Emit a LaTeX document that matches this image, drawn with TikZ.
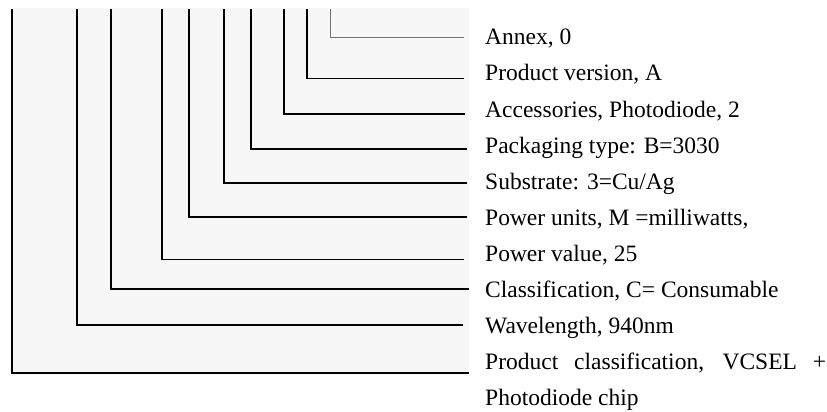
\documentclass[tikz,border=0pt]{standalone}
\usepackage{fontspec}
\setmainfont{Liberation Serif}
\begin{document}
\begin{tikzpicture}[x=1pt,y=-1pt,
  lbl/.style={anchor=base west,inner sep=0pt,font=\fontsize{23.5pt}{28pt}\selectfont,text=black},
  leadthin/.style={draw=black!55,line width=0.9pt},
  leadmid/.style={draw=black,line width=1.5pt},
  leadthick/.style={draw=black,line width=1.9pt}]
\useasboundingbox (0,0) rectangle (827,412);
\fill[black!3] (12,8) rectangle (469,375);
% labels
\node[lbl] (l1) at (485,45) {Annex, 0};
\node[lbl] (l2) at (485,81) {Product version, A};
\node[lbl] (l3) at (485,117) {Accessories, Photodiode, 2};
\node[lbl] (l4) at (485,153) {Packaging type: B=3030};
\node[lbl] (l5) at (485,189) {Substrate: 3=Cu/Ag};
\node[lbl] (l6) at (485,225) {Power units, M =milliwatts,};
\node[lbl] (l7) at (485,261) {Power value, 25};
\node[lbl] (l8) at (485,297) {Classification, C= Consumable};
\node[lbl] (l9) at (485,333) {Wavelength, 940nm};
\node[lbl] (l10) at (485,369) {\makebox[341pt][s]{Product classification, VCSEL +}};
\node[lbl] (l11) at (485,405) {Photodiode chip};
% top ends
\coordinate (t1) at (330,9);
\coordinate (t2) at (307,9);
\coordinate (t3) at (284,9);
\coordinate (t4) at (251,9);
\coordinate (t5) at (224,9);
\coordinate (t6) at (189,9);
\coordinate (t7) at (162,9);
\coordinate (t8) at (111,9);
\coordinate (t9) at (77,9);
\coordinate (t10) at (12,9);
% right ends
\coordinate (e1) at (464,37.3);
\coordinate (e2) at (464,78.7);
\coordinate (e3) at (465,114.3);
\coordinate (e4) at (467,148.7);
\coordinate (e5) at (467,183);
\coordinate (e6) at (467,217.3);
\coordinate (e7) at (464,259.3);
\coordinate (e8) at (469,289.3);
\coordinate (e9) at (463,325);
\coordinate (e10) at (469,373.3);
% leaders
\draw[leadthin] (t1) |- (e1);
\draw[leadmid] (t2) |- (e2);
\draw[leadthick] (t3) |- (e3);
\draw[leadthick] (t4) |- (e4);
\draw[leadthick] (t5) |- (e5);
\draw[leadthick] (t6) |- (e6);
\draw[leadmid] (t7) |- (e7);
\draw[leadthick] (t8) |- (e8);
\draw[leadmid] (t9) |- (e9);
\draw[leadthick] (t10) |- (e10);
\end{tikzpicture}
\end{document}
